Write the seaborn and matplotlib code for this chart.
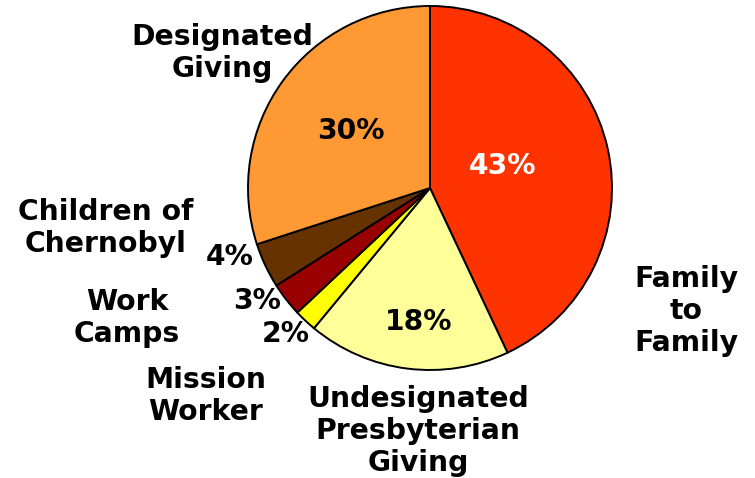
import matplotlib
matplotlib.use("Agg")
import matplotlib.pyplot as plt
import seaborn as sns

sns.set_theme(style="white")
plt.rcParams["font.family"] = ["DejaVu Sans"]

# data, clockwise from 12 o'clock
labels = ["Family\nto\nFamily", "Undesignated\nPresbyterian\nGiving", "Mission\nWorker",
          "Work\nCamps", "Children of\nChernobyl", "Designated\nGiving"]
shares = [43, 18, 2, 3, 4, 30]
colors = ["#FF3300", "#FFFF99", "#FFFF00", "#990000", "#663300", "#FF9933"]

W, H = 755, 478
fig = plt.figure(figsize=(W / 100, H / 100), dpi=100)
cx, cy, r = 430, 188, 182
ax = fig.add_axes([(cx - r) / W, 1 - (cy + r) / H, 2 * r / W, 2 * r / H])
ax.pie(shares, colors=colors, startangle=90, counterclock=False,
       wedgeprops=dict(edgecolor="black", linewidth=1.4))
ax.set_xlim(-1, 1)
ax.set_ylim(-1, 1)
ax.axis("off")

# label and percentage positions (pixel centres)
name_pos = [(686, 311), (418, 431), (206, 396), (127, 318), (106, 228), (222, 53)]
pct_pos = [(503, 166), (419, 322), (286, 334), (257, 301), (230, 257), (351, 131)]
pct_col = ["white", "black", "black", "black", "black", "black"]

def put(txt, x, y, color="black"):
    fig.text(x / W, 1 - y / H, txt, ha="center", va="center", fontsize=20.3,
             fontweight="bold", color=color, linespacing=1.19)

for lab, (x, y) in zip(labels, name_pos):
    put(lab, x, y)
for s, (x, y), c in zip(shares, pct_pos, pct_col):
    put(f"{s}%", x, y, c)

fig.savefig("out.png", dpi=100)
